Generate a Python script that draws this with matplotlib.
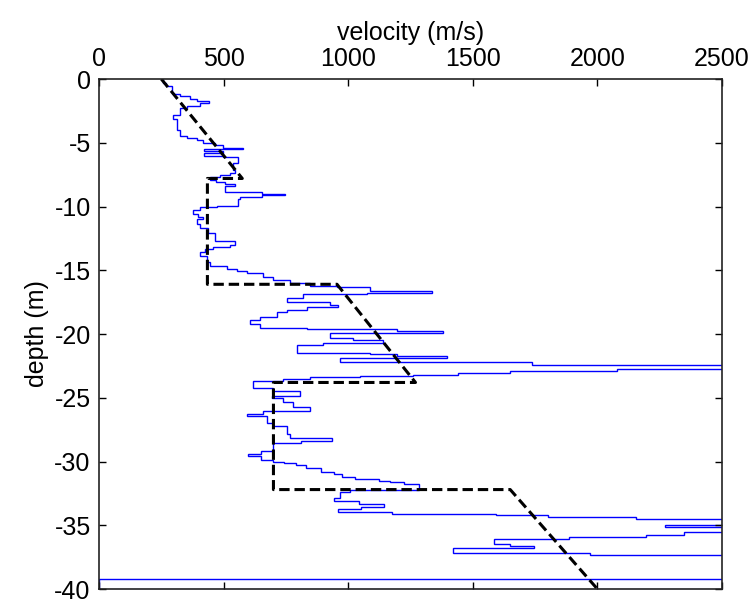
import numpy as np
import matplotlib
matplotlib.use('Agg')
import matplotlib.pyplot as plt

plt.rcParams['font.family'] = ['Liberation Sans', 'DejaVu Sans']
plt.rcParams['axes.unicode_minus'] = False

# measured velocity log: top of each interval (m below surface) and velocity (m/s)
log_depth = [0.0, 0.3, 0.55, 1.1, 1.2, 1.35, 1.6, 1.75, 1.9, 2.15,
             2.3, 2.8, 3.1, 4.0, 4.45, 4.65, 4.8, 5.0, 5.2, 5.4,
             5.5, 5.65, 5.8, 6.0, 6.15, 6.6, 7.1, 7.4, 7.5, 7.7,
             7.9, 8.05, 8.25, 8.4, 8.85, 9.0, 9.1, 9.25, 9.4, 9.95,
             10.05, 10.25, 10.6, 10.8, 11.0, 11.35, 11.7, 12.1, 12.7, 13.0,
             13.2, 13.35, 13.6, 13.9, 14.35, 14.7, 14.9, 15.05, 15.25, 15.5,
             15.8, 16.0, 16.2, 16.35, 16.6, 16.8, 16.9, 17.2, 17.5, 17.7,
             17.9, 18.1, 18.3, 18.7, 18.9, 19.2, 19.5, 19.6, 19.75, 19.95,
             20.3, 20.5, 20.7, 20.9, 21.45, 21.6, 21.75, 21.9, 22.2, 22.4,
             22.75, 22.9, 23.05, 23.2, 23.3, 23.4, 23.5, 23.65, 24.2, 24.45,
             24.9, 25.05, 25.35, 25.75, 26.05, 26.25, 26.45, 27.0, 27.2, 27.85,
             28.15, 28.4, 28.55, 29.2, 29.4, 29.6, 29.85, 30.0, 30.15, 30.3,
             30.5, 30.8, 31.0, 31.2, 31.4, 31.5, 31.6, 31.8, 32.2, 32.4,
             32.9, 33.1, 33.35, 33.55, 33.75, 33.95, 34.1, 34.2, 34.35, 34.5,
             35.0, 35.1, 35.55, 35.75, 35.9, 36.05, 36.5, 36.65, 36.8, 37.2,
             37.35, 39.2]
log_vel = [255, 270, 292, 300, 325, 365, 392, 443, 405, 352,
           325, 298, 314, 325, 352, 392, 419, 465, 499, 579,
           420, 496, 420, 496, 559, 539, 546, 526, 486, 445,
           470, 506, 546, 506, 653, 746, 653, 566, 559, 472,
           405, 378, 398, 419, 392, 405, 439, 465, 546, 526,
           459, 425, 405, 432, 445, 512, 552, 593, 659, 700,
           767, 847, 954, 1088, 1335, 1074, 820, 753, 927, 960,
           833, 753, 713, 646, 606, 646, 833, 1195, 1382, 927,
           1021, 1141, 899, 793, 1088, 1195, 1395, 967, 1736, 3000,
           2077, 1649, 1441, 1260, 1047, 847, 740, 619, 700, 807,
           693, 740, 780, 847, 660, 595, 673, 700, 753, 767,
           935, 810, 700, 652, 597, 652, 698, 744, 790, 829,
           890, 944, 975, 1029, 1122, 1168, 1222, 1283, 1006, 967,
           944, 1045, 1145, 1052, 960, 1175, 1592, 1800, 2154, 3000,
           2270, 3000, 2347, 2193, 1885, 1584, 1650, 1746, 1422, 1969,
           3000, 0]
log_bottom = 40.0

# layered model (dashed)
model_vel = [250, 575, 435, 435, 955, 1270, 700, 700, 1650, 2000]
model_depth = [0, -7.8, -7.8, -16.1, -16.1, -23.8, -23.8, -32.2, -32.2, -40]

fig = plt.figure(figsize=(7.5, 6), dpi=100)
ax = fig.add_axes([0.132, 0.0183, 0.8307, 0.85])

edges = -np.array(log_depth + [log_bottom])
ax.stairs(log_vel, edges, orientation='horizontal', baseline=None,
          color='#0000ff', linewidth=1.0)
ax.plot(model_vel, model_depth, color='black', linestyle='--',
        linewidth=2.2, dashes=(3.4, 1.6))

ax.set_xlim(0, 2500)
ax.set_ylim(-40, 0)
ax.set_xticks(np.arange(0, 2501, 500))
ax.set_yticks(np.arange(-40, 1, 5))

ax.xaxis.tick_top()
ax.xaxis.set_label_position('top')
ax.tick_params(direction='in', top=True, bottom=True, left=True, right=True,
               labeltop=True, labelbottom=False, length=4.7, width=1,
               labelsize=18, pad=6)
for s in ax.spines.values():
    s.set_linewidth(1.2)
    s.set_color('#222222')

ax.set_xlabel('velocity (m/s)', fontsize=18, labelpad=5)
ax.set_ylabel('depth (m)', fontsize=18, labelpad=4)

fig.savefig('out.png', dpi=100)
